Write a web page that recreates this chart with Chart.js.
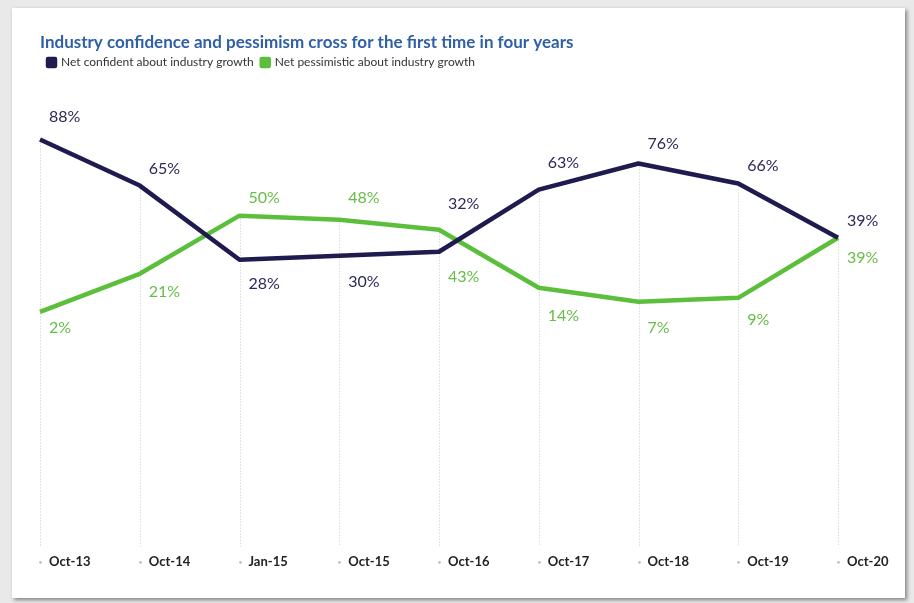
<!DOCTYPE html>
<html>
<head>
<meta charset="utf-8">
<script src="https://cdn.jsdelivr.net/npm/chart.js@4"></script>
<style>
  html, body { margin: 0; padding: 0; background: #e9e9e9; }
  #card { position: absolute; left: 12px; top: 8px; width: 893px; height: 590px; background: #fff;
          box-shadow: 2px 2px 4px rgba(0,0,0,0.45); }
  #wrap { position: absolute; left: 0; top: 0; width: 914px; height: 603px; }
</style>
</head>
<body>
<div id="card"></div>
<div id="wrap"><canvas id="line_chart" width="914" height="603"></canvas></div>
<script>
const labels = ["Oct-13", "Oct-14", "Jan-15", "Oct-15", "Oct-16", "Oct-17", "Oct-18", "Oct-19", "Oct-20"]
const confident = [88, 65, 28, 30, 32, 63, 76, 66, 39]
const pessimistic = [2, 21, 50, 48, 43, 14, 7, 9, 39]

const navy = '#1f1b4f'
const green = '#5cbf3c'

// label offsets (px) above/below each point
const confident_dy = [-23, -17, 24, 26, -48, -27, -20, -18, -17]
const pessimistic_dy = [16, 18, -18, -22, 47, 28, 26, 22, 20]

const point_labels = {
    id: 'point_labels',
    afterDatasetsDraw(chart) {
        const ctx = chart.ctx
        const offsets = [confident_dy, pessimistic_dy]
        const colors = ['#2c2958', '#67bd47']
        ctx.save()
        ctx.font = '16px Lato'
        ctx.textAlign = 'left'
        ctx.textBaseline = 'middle'
        chart.data.datasets.forEach((ds, i) => {
            const meta = chart.getDatasetMeta(i)
            ctx.fillStyle = colors[i]
            meta.data.forEach((pt, j) => {
                ctx.fillText(ds.data[j] + '%', pt.x + 9, pt.y + offsets[i][j])
            })
        })
        ctx.restore()
    }
}

// dotted guides from the higher point down to the axis
const guides = {
    id: 'guides',
    beforeDatasetsDraw(chart) {
        const ctx = chart.ctx
        const a = chart.getDatasetMeta(0).data
        const b = chart.getDatasetMeta(1).data
        const bottom = chart.chartArea.bottom
        ctx.save()
        ctx.strokeStyle = '#c8c8c8'
        ctx.fillStyle = '#bdbdbd'
        ctx.lineWidth = 1
        ctx.setLineDash([1, 2])
        a.forEach((pt, j) => {
            const x = Math.round(pt.x) + 0.5
            const top = Math.min(pt.y, b[j].y)
            ctx.beginPath()
            ctx.moveTo(x, top)
            ctx.lineTo(x, bottom)
            ctx.stroke()
            ctx.beginPath()
            ctx.arc(x, bottom + 16, 1.3, 0, Math.PI * 2)
            ctx.fill()
        })
        ctx.restore()
    }
}

// extra room under the legend
const legend_gap = {
    id: 'legend_gap',
    beforeInit(chart) {
        const fit = chart.legend.fit
        chart.legend.fit = function () {
            fit.bind(chart.legend)()
            this.height += 27
        }
    }
}

const line_data = {
    labels: labels,
    datasets: [{
        label: 'Net confident about industry growth',
        data: confident,
        borderColor: navy,
        backgroundColor: navy,
        borderWidth: 4.5,
        pointRadius: 0,
        borderJoinStyle: 'round',
        order: 0
    }, {
        label: 'Net pessimistic about industry growth',
        data: pessimistic,
        borderColor: green,
        backgroundColor: green,
        borderWidth: 4.5,
        pointRadius: 0,
        borderJoinStyle: 'round',
        order: 1
    }]
}

const line_config = {
    type: 'line',
    data: line_data,
    plugins: [legend_gap, guides, point_labels],
    options: {
        responsive: false,
        animation: false,
        layout: { padding: { left: 40, right: 76, top: 32, bottom: 25 } },
        plugins: {
            title: {
                display: true,
                text: 'Industry confidence and pessimism cross for the first time in four years',
                align: 'start',
                color: '#2f5fa6',
                font: { family: 'Lato', size: 17, weight: 'bold' },
                padding: { top: 0, bottom: -4 }
            },
            legend: {
                align: 'start',
                labels: {
                    boxWidth: 7,
                    boxHeight: 7,
                    padding: 8,
                    color: '#333',
                    font: { family: 'Lato', size: 12 }
                }
            },
            tooltip: { enabled: false }
        },
        scales: {
            x: {
                offset: false,
                grid: { display: false, drawTicks: false },
                border: { display: false },
                ticks: {
                    align: 'start',
                    labelOffset: 9,
                    padding: 8,
                    color: '#222',
                    font: { family: 'Lato', size: 13, weight: 'bold' }
                }
            },
            y: {
                display: false,
                min: -115,
                max: 105
            }
        }
    }
}

var ctx_line = document.getElementById("line_chart")
var line_chart = new Chart(ctx_line, line_config)
</script>
</body>
</html>
